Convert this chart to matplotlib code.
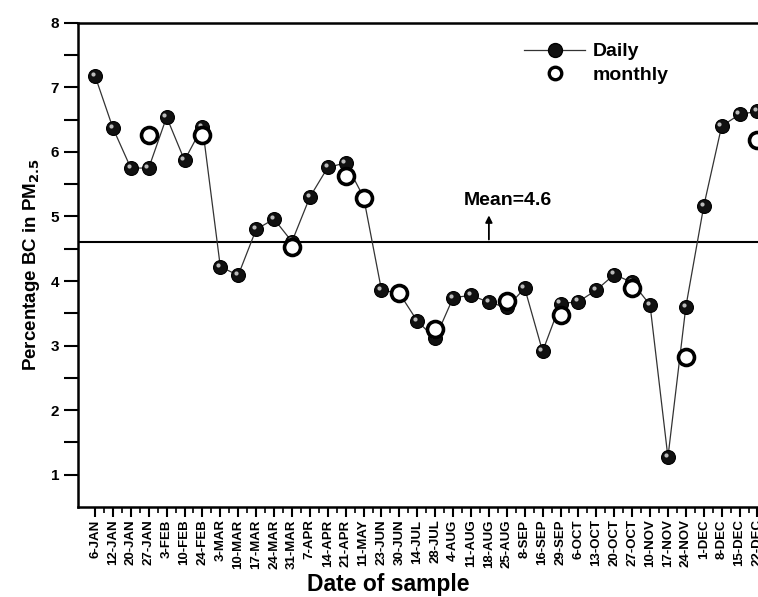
import numpy as np
import matplotlib.pyplot as plt
from matplotlib.lines import Line2D
from matplotlib.transforms import offset_copy

plt.rcParams['font.family'] = ['Liberation Sans', 'DejaVu Sans']
plt.rcParams['font.weight'] = 'bold'

dates = ['6-JAN', '12-JAN', '20-JAN', '27-JAN', '3-FEB', '10-FEB', '24-FEB',
         '3-MAR', '10-MAR', '17-MAR', '24-MAR', '31-MAR', '7-APR', '14-APR',
         '21-APR', '11-MAY', '23-JUN', '30-JUN', '14-JUL', '28-JUL', '4-AUG',
         '11-AUG', '18-AUG', '25-AUG', '8-SEP', '16-SEP', '29-SEP', '6-OCT',
         '13-OCT', '20-OCT', '27-OCT', '10-NOV', '17-NOV', '24-NOV', '1-DEC',
         '8-DEC', '15-DEC', '22-DEC']

daily = [7.18, 6.37, 5.75, 5.75, 6.54, 5.87, 6.39,
         4.22, 4.09, 4.80, 4.96, 4.61, 5.30, 5.76,
         5.83, 5.30, 3.86, 3.81, 3.38, 3.11, 3.74,
         3.78, 3.67, 3.59, 3.89, 2.91, 3.65, 3.68,
         3.86, 4.10, 3.98, 3.63, 1.27, 3.60, 5.16,
         6.40, 6.58, 6.63]

# monthly averages, plotted at the last sample of each month
month_dates = ['27-JAN', '24-FEB', '31-MAR', '21-APR', '11-MAY', '30-JUN',
               '28-JUL', '25-AUG', '29-SEP', '27-OCT', '24-NOV', '22-DEC']
monthly = [6.26, 6.26, 4.52, 5.63, 5.29, 3.81, 3.25, 3.69, 3.47, 3.89, 2.83, 6.19]

mean_bc = 4.6

x = np.arange(len(dates))
xm = [dates.index(d) for d in month_dates]

fig = plt.figure(figsize=(7.58, 5.97), dpi=100)
ax = fig.add_axes([0.1029, 0.1508, 0.92, 0.811])

# daily series: dark balls with a small highlight
ax.plot(x, daily, color='#333333', lw=0.9, marker='o', ms=10,
        mfc='#111111', mec='#000000', mew=0.8, zorder=3)
hl = offset_copy(ax.transData, fig=fig, x=-1.6, y=1.6, units='points')
ax.plot(x, daily, ls='none', marker='o', ms=3, mfc='#bbbbbb', mec='none',
        transform=hl, zorder=4)

ax.plot(xm, monthly, ls='none', marker='o', ms=11.5, mfc='white',
        mec='black', mew=2.6, zorder=5)

ax.axhline(mean_bc, color='black', lw=1.5, zorder=2)
ax.annotate('', xy=(22, 5.06), xytext=(22, mean_bc),
            arrowprops=dict(arrowstyle='-|>', color='black', lw=1.3,
                            mutation_scale=10))
ax.text(20.6, 5.25, 'Mean=4.6', fontsize=14, fontweight='bold',
        va='center', ha='left')

ax.set_xlim(-0.95, 38)
ax.set_ylim(0.5, 8)
ax.set_xticks(x)
ax.set_xticklabels(dates, rotation=90, fontsize=9.5, fontweight='bold')
ax.set_xticks(x[:-1] + 0.5, minor=True)
ax.set_yticks([1, 2, 3, 4, 5, 6, 7, 8])
ax.set_yticks(np.arange(1.5, 8, 1.0), minor=True)
ax.tick_params(axis='y', which='both', length=10, width=1.5, labelsize=11)
ax.tick_params(axis='x', which='major', length=7, width=1.5, pad=2)
ax.tick_params(axis='x', which='minor', length=4, width=1.2)
for s in ax.spines.values():
    s.set_linewidth(1.8)

ax.set_xlabel('Date of sample', fontsize=16.5, fontweight='bold')
ax.xaxis.set_label_coords(0.445, -0.137)
ax.set_ylabel('Percentage BC in PM$_{\\mathbf{2.5}}$', fontsize=13.5,
              fontweight='bold', labelpad=6)

handles = [
    Line2D([], [], color='#333333', lw=0.9, marker='o', ms=10,
           mfc='#111111', mec='black'),
    Line2D([], [], ls='none', marker='o', ms=9, mfc='white', mec='black',
           mew=2.4),
]
ax.legend(handles, ['Daily', 'monthly'], loc='upper left',
          bbox_to_anchor=(0.615, 0.995), frameon=False, handlelength=3.1,
          handletextpad=0.4, labelspacing=0.3,
          prop={'size': 14, 'weight': 'bold'})

fig.savefig('out.png', dpi=100)
